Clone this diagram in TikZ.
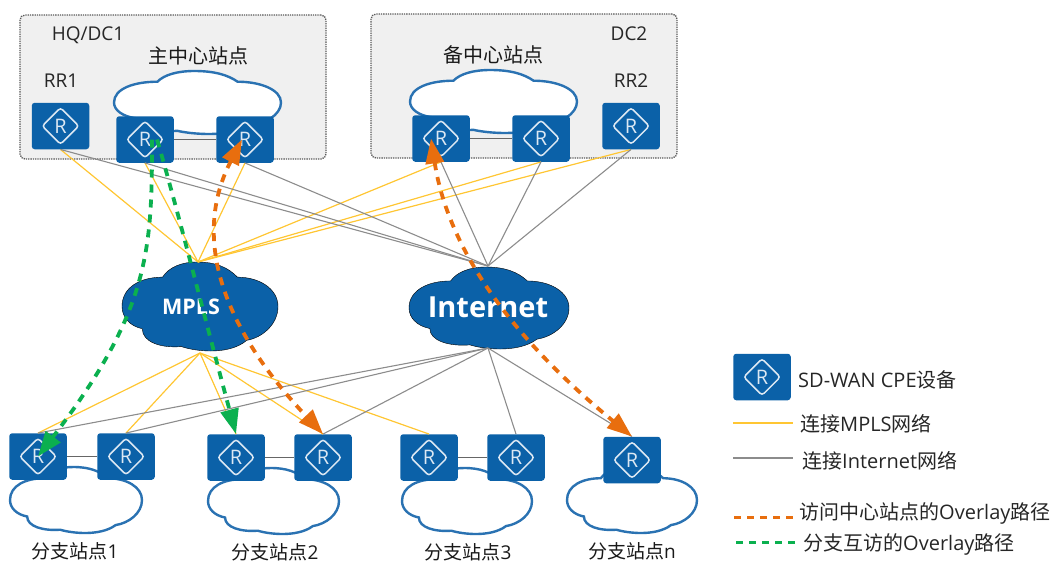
\documentclass[tikz,border=0pt]{standalone}
\usepackage{fontspec}
\setmainfont{Open Sans}
\newfontfamily\cjk{Noto Sans CJK SC}
\usetikzlibrary{arrows.meta}
\definecolor{hwblue}{HTML}{0B61A8}
\definecolor{hwline}{HTML}{2A72B2}
\definecolor{mplsline}{HTML}{FFC633}
\definecolor{inetline}{HTML}{8C8C8C}
\definecolor{ovorange}{HTML}{E86E0E}
\definecolor{ovgreen}{HTML}{0BB04F}
\definecolor{sitefill}{HTML}{F0F0F0}
\definecolor{markline}{HTML}{DCE8F3}
\newcommand{\C}[1]{{\cjk #1}}
\newcommand{\fs}[1]{\fontsize{#1}{#1}\selectfont}
\newcommand{\cloudshape}[5]{%
  \draw[#5,shift={(#1,#2)},x=#3pt,y=-#4pt]
    (0,.5) .. controls (0,.28) and (.12,.17) .. (.26,.17)
    .. controls (.3,.06) and (.38,0) .. (.48,0)
    .. controls (.6,0) and (.68,.06) .. (.74,.17)
    .. controls (.88,.17) and (1,.3) .. (1,.5)
    .. controls (1,.7) and (.9,.85) .. (.8,.88)
    .. controls (.74,.97) and (.65,1) .. (.57,1)
    .. controls (.5,1) and (.43,.98) .. (.38,.95)
    .. controls (.25,.97) and (.13,.9) .. (.13,.75)
    .. controls (.05,.72) and (0,.62) .. (0,.5) -- cycle;}
\tikzset{
  site/.style={draw=black!65,fill=sitefill,densely dotted,line width=1.3pt,rounded corners=5pt,minimum width=306pt,minimum height=144pt,inner sep=0pt},
  router/.style={rectangle,rounded corners=3pt,fill=hwblue,minimum width=57.5pt,minimum height=46.5pt,inner sep=0pt,text=markline,font=\fs{20},
    path picture={\draw[markline,line width=1.5pt]
      ([xshift=-18.3pt]path picture bounding box.center) --
      ([yshift=18.3pt]path picture bounding box.center) --
      ([xshift=18.3pt]path picture bounding box.center) --
      ([yshift=-18.3pt]path picture bounding box.center) -- cycle;}},
  opencloud/.style={draw=hwline,fill=white,line width=2.4pt},
  solidcloud/.style={fill=hwblue},
  pairlink/.style={draw=black!60,line width=1.9pt},
  mplslink/.style={draw=mplsline,line width=1.2pt},
  inetlink/.style={draw=inetline,line width=1.1pt},
  overlayorange/.style={draw=ovorange,line width=3.8pt,dash pattern=on 8pt off 7pt},
  overlaygreen/.style={draw=ovgreen,line width=3.8pt,dash pattern=on 8pt off 7pt},
  headorange/.style={-{Triangle[length=25pt,width=18pt,fill=ovorange]}},
  tailorange/.style={{Triangle[length=25pt,width=18pt,fill=ovorange]}-{Triangle[length=25pt,width=18pt,fill=ovorange]}},
  headgreen/.style={-{Triangle[length=25pt,width=18pt,fill=ovgreen]}},
  lbl/.style={inner sep=0pt,text=black!85,font=\fs{19}},
  cjklbl/.style={inner sep=0pt,text=black!90,font=\fs{20}},
  brlbl/.style={inner sep=0pt,text=black!90,font=\fs{19}},
  leg/.style={inner sep=0pt,anchor=west,text=black!85,font=\fs{20}},
}
\begin{document}
\begin{tikzpicture}[x=1pt,y=-1pt]
\useasboundingbox (0,0) rectangle (1051,563);
% containers
\node[site] (hq) at (173,87) {};
\node[site] (dc) at (524,86) {};
% clouds
\cloudshape{114}{71}{167}{63}{opencloud}
\cloudshape{410}{70}{167}{63}{opencloud}
\cloudshape{10}{467}{132}{66}{opencloud}
\cloudshape{208}{468}{131}{66}{opencloud}
\cloudshape{402}{468}{130}{66}{opencloud}
\cloudshape{567}{467}{130}{66}{opencloud}
\cloudshape{122}{262}{156}{89}{solidcloud}
\cloudshape{409}{267}{160}{82}{solidcloud}
\coordinate (mplsT) at (198,262);
\coordinate (mplsB) at (200,353);
\coordinate (inetT) at (488,266);
\coordinate (inetB) at (488,348);
\node[inner sep=0pt,text=white,font=\bfseries\fs{21.5}] (mpls) at (191,307) {MPLS};
\node[inner sep=0pt,text=white,font=\bfseries\fs{29}] (inet) at (488,307) {Internet};
% routers
\node[router] (rr1) at (60.5,126) {R};
\node[router] (hl) at (145,139.5) {R};
\node[router] (hr) at (245,139.5) {R};
\node[router] (dl) at (441,138.5) {R};
\node[router] (dr) at (541,138.5) {R};
\node[router] (rr2) at (631,126) {R};
\node[router] (al) at (38,456.5) {R};
\node[router] (ar) at (126,456.5) {R};
\node[router] (bl) at (236,457.5) {R};
\node[router] (br) at (323,457.5) {R};
\node[router] (cl) at (429,457.5) {R};
\node[router] (cr) at (516,457.5) {R};
\node[router] (nn) at (632,460) {R};
\node[router] (legr) at (762,377) {R};
% links inside a site
\draw[pairlink] (hl) -- (hr);
\draw[pairlink] (dl) -- (dr);
\draw[pairlink] (al) -- (ar);
\draw[pairlink] (bl) -- (br);
\draw[pairlink] (cl) -- (cr);
% MPLS links
\foreach \t in {rr1,hl,hr,dl,dr,rr2} \draw[mplslink] (mplsT) -- (\t.south);
\foreach \t in {al,ar,bl,br,cl} \draw[mplslink] (mplsB) -- (\t.north);
% Internet links
\foreach \t in {rr1,hl,hr,dl,dr,rr2} \draw[inetlink] (inetT) -- (\t.south);
\foreach \t in {al,ar,br,cr,nn} \draw[inetlink] (inetB) -- (\t.north);
% overlays
\draw[overlaygreen,headgreen] ([xshift=7pt]hl.center) .. controls (152,250) and (150,310) .. (al.center);
\draw[overlaygreen,headgreen] ([xshift=12pt]hl.center) .. controls (175,200) and (200,300) .. (bl.north);
\draw[overlayorange,tailorange] ([xshift=-3pt]hr.center) .. controls (190,240) and (225,330) .. (br.north);
\draw[overlayorange,tailorange] ([xshift=-10pt]dl.center) .. controls (445,230) and (490,320) .. (nn.north);
% labels
\node[lbl] (t1) at (88,35) {HQ/DC1};
\node[lbl] (t2) at (61,81) {RR1};
\node[cjklbl] (t3) at (198,56) {\C{主中心站点}};
\node[cjklbl] (t4) at (493,55) {\C{备中心站点}};
\node[lbl] (t5) at (629,34) {DC2};
\node[lbl] (t6) at (631,81) {RR2};
\node[brlbl] (t7) at (75,551.5) {\C{分支站点}1};
\node[brlbl] (t8) at (275,552) {\C{分支站点}2};
\node[brlbl] (t9) at (468,552) {\C{分支站点}3};
\node[brlbl] (t10) at (632,551.5) {\C{分支站点}n};
% legend
\coordinate (ya) at (733,423); \coordinate (yb) at (793,423);
\coordinate (ga) at (733,458); \coordinate (gb) at (793,458);
\coordinate (oa) at (734,517); \coordinate (ob) at (794,517);
\coordinate (va) at (736,542); \coordinate (vb) at (796,542);
\draw[mplslink] (ya) -- (yb);
\draw[inetlink] (ga) -- (gb);
\draw[overlayorange,line width=3pt,dash pattern=on 7pt off 6pt] (oa) -- (ob);
\draw[overlaygreen,line width=3pt,dash pattern=on 7pt off 6pt] (va) -- (vb);
\node[leg] (l1) at (798,380) {SD-WAN CPE\C{设备}};
\node[leg] (l2) at (800,424) {\C{连接}MPLS\C{网络}};
\node[leg] (l3) at (802,461) {\C{连接}Internet\C{网络}};
\node[leg] (l4) at (799,513) {\C{访问中心站点的}Overlay\C{路径}};
\node[leg] (l5) at (803,544) {\C{分支互访的}Overlay\C{路径}};
\end{tikzpicture}
\end{document}
